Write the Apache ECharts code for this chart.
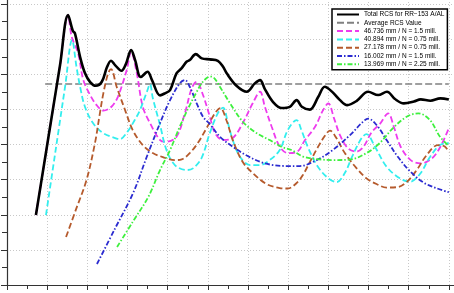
<!DOCTYPE html>
<html>
<head>
<meta charset="utf-8">
<script src="https://cdn.jsdelivr.net/npm/echarts@6/dist/echarts.min.js"></script>
<style>html,body{margin:0;padding:0;background:#fff}#c{width:454px;height:293px}</style>
</head>
<body>
<div id="c"></div>
<script>
// Series names (legend)
const names = [
  'Total RCS for RR\u2212153 A/AL',
  'Average RCS Value',
  '46.736 mm / N = 1.5 mill.',
  '40.894 mm / N = 0.75 mill.',
  '27.178 mm / N = 0.75 mill.',
  '16.002 mm / N = 1.5 mill.',
  '13.969 mm / N = 2.25 mill.'
];

// Values, [x, y]
const total = [[0.72,9.96],[0.92,17.08],[1.12,24.20],[1.32,31.30],[1.52,38.43],[1.64,36.16],[1.69,35.87],[1.82,32.46],[1.94,30.18],[2.07,28.90],[2.21,28.37],[2.36,28.94],[2.49,31.03],[2.59,31.93],[2.69,31.32],[2.85,30.50],[2.96,31.46],[3.09,33.45],[3.19,32.03],[3.33,29.61],[3.50,30.36],[3.61,29.18],[3.81,27.0],[3.93,27.29],[4.06,27.76],[4.22,30.14],[4.35,30.89],[4.47,31.79],[4.55,32.03],[4.70,32.88],[4.85,32.27],[5.05,32.13],[5.25,31.93],[5.38,31.07],[5.47,30.14],[5.72,28.33],[5.97,27.52],[6.17,28.71],[6.30,29.18],[6.42,27.90],[6.62,26.09],[6.84,25.20],[7.04,25.38],[7.21,26.33],[7.34,25.38],[7.54,24.98],[7.75,26.80],[7.91,28.23],[8.09,27.54],[8.29,26.33],[8.47,25.62],[8.70,26.19],[8.99,27.52],[9.24,27.05],[9.46,27.52],[9.66,26.48],[9.88,25.86],[10.13,26.12],[10.30,26.43],[10.54,26.24],[10.79,26.58],[11.00,26.43]];
const average = [[0.95,28.61],[11.0,28.61]];
const s46736 = [[0.72,9.96],[0.92,17.08],[1.12,24.20],[1.32,31.30],[1.52,38.43],[1.61,35.35],[1.77,33.02],[1.90,29.18],[2.07,27.05],[2.23,25.62],[2.40,24.84],[2.60,25.38],[2.76,26.80],[2.98,30.60],[3.09,33.17],[3.23,30.18],[3.38,25.38],[3.56,23.06],[3.81,20.64],[3.97,20.40],[4.22,21.11],[4.43,24.48],[4.60,28.04],[4.72,28.94],[4.88,27.05],[5.05,23.96],[5.18,21.64],[5.38,20.64],[5.62,20.93],[5.87,23.06],[6.12,25.91],[6.30,27.52],[6.42,25.38],[6.59,22.53],[6.79,19.69],[6.99,18.79],[7.21,18.93],[7.42,20.64],[7.67,22.53],[7.87,24.91],[8.00,25.86],[8.14,23.77],[8.29,21.35],[8.49,19.46],[8.70,19.00],[8.87,19.64],[9.08,21.78],[9.28,22.92],[9.49,24.44],[9.63,22.53],[9.80,19.69],[10.05,17.79],[10.30,17.32],[10.58,18.04],[10.79,19.69],[11.00,22.35]];
const s40894 = [[0.97,9.96],[1.13,16.10],[1.29,22.25],[1.45,28.40],[1.62,34.88],[1.73,31.07],[1.82,28.23],[1.94,25.38],[2.14,23.06],[2.39,21.64],[2.73,20.85],[2.81,20.78],[3.01,21.92],[3.18,23.49],[3.31,24.91],[3.48,27.47],[3.56,28.61],[3.63,26.62],[3.81,22.78],[3.97,19.22],[4.18,17.08],[4.47,16.37],[4.63,16.61],[4.84,18.04],[5.05,21.64],[5.25,24.48],[5.38,25.27],[5.50,23.06],[5.62,20.64],[5.80,18.26],[6.05,17.08],[6.29,17.08],[6.54,17.79],[6.79,19.22],[6.99,22.06],[7.21,23.49],[7.33,22.06],[7.49,19.64],[7.74,16.84],[8.00,15.19],[8.21,14.66],[8.41,15.94],[8.61,18.51],[8.83,20.93],[8.95,21.49],[9.16,19.69],[9.45,16.84],[9.78,15.19],[10.03,14.70],[10.28,15.80],[10.53,18.22],[10.78,19.93],[11.00,20.2]];
const s27178 = [[1.47,6.83],[1.72,10.80],[1.98,14.95],[2.19,20.21],[2.30,24.00],[2.40,27.33],[2.52,30.18],[2.59,30.75],[2.73,28.23],[2.94,24.91],[3.13,22.06],[3.38,19.93],[3.63,18.79],[3.88,18.22],[4.18,17.79],[4.35,17.89],[4.55,18.79],[4.75,20.21],[4.97,22.35],[5.18,24.48],[5.31,25.20],[5.47,23.35],[5.62,20.64],[5.87,17.51],[6.12,15.94],[6.46,14.38],[6.79,13.81],[6.99,13.74],[7.21,14.52],[7.37,15.70],[7.54,17.51],[7.74,19.64],[7.91,21.21],[8.04,21.99],[8.20,20.93],[8.41,18.79],[8.70,16.65],[8.95,15.19],[9.20,14.38],[9.45,13.88],[9.73,13.95],[9.95,14.66],[10.20,16.37],[10.45,18.51],[10.73,19.93],[10.90,19.72],[11.00,18.93]];
const s16002 = [[2.24,2.99],[2.69,8.05],[3.14,13.10],[3.48,18.26],[3.81,23.06],[4.06,26.33],[4.30,28.71],[4.43,29.18],[4.55,28.23],[4.72,25.91],[4.88,23.96],[5.05,22.92],[5.30,21.11],[5.62,19.69],[5.97,18.43],[6.30,17.55],[6.62,17.08],[6.96,16.94],[7.29,16.94],[7.71,17.79],[8.11,19.22],[8.54,21.35],[8.83,23.06],[8.99,23.70],[9.20,22.78],[9.46,20.57],[9.73,18.26],[10.04,16.16],[10.37,14.59],[10.70,13.77],[11.00,13.21]];
const s13969 = [[2.74,5.41],[3.13,8.99],[3.52,12.57],[3.81,16.37],[4.06,19.22],[4.30,22.53],[4.55,25.62],[4.72,27.47],[4.85,28.75],[5.01,29.61],[5.09,29.68],[5.18,29.32],[5.30,28.23],[5.55,25.91],[5.87,23.25],[6.21,21.64],[6.54,20.64],[6.83,19.69],[7.08,19.22],[7.37,18.29],[7.71,17.94],[8.11,17.79],[8.54,17.86],[8.95,18.79],[9.28,20.21],[9.61,22.35],[9.95,23.96],[10.24,24.44],[10.53,23.49],[10.78,21.11],[11.00,19.79]];

const colors = ['#000000','#808080','#ee3bee','#33eeee','#b55a2c','#2b2bd0','#3ef03e'];
const dataList = [total, average, s46736, s40894, s27178, s16002, s13969];
const widths = [2.6, 1.5, 1.8, 1.8, 1.8, 1.8, 1.8];
const dashes = ['solid', [7,3], [6,3], [6,3], [6,3], [5,2,1.5,2], [5,2,1.5,2]];

const chart = echarts.init(document.getElementById('c'), null, {renderer:'canvas'});
const series = dataList.map((d, i) => ({
  name: names[i],
  type: 'line',
  data: d,
  showSymbol: false,
  symbol: 'none',
  smooth: i === 1 ? false : 0.35,
  z: i === 0 ? 5 : 2,
  lineStyle: {color: colors[i], width: widths[i], type: dashes[i]},
  itemStyle: {color: colors[i]},
  emphasis: {disabled: true},
  silent: true,
  animation: false
}));

chart.setOption({
  animation: false,
  backgroundColor: '#ffffff',
  grid: {left: 7, top: -31, width: 482, height: 316, containLabel: false, outerBoundsMode: 'none'},
  legend: {
    data: names,
    orient: 'vertical',
    left: 332, top: 9,
    itemWidth: 22, itemHeight: 7, itemGap: 1.3,
    padding: [2, 3, 2, 4],
    borderColor: '#000', borderWidth: 1.5,
    backgroundColor: '#fff',
    selectedMode: false,
    itemStyle: {opacity: 0},
    textStyle: {fontSize: 6.5, lineHeight: 7, fontFamily: 'Liberation Sans, Arial, sans-serif', color: '#000'}
  },
  xAxis: {
    type: 'value', min: 0, max: 12, interval: 1,
    axisLine: {show: true, lineStyle: {color: '#333', width: 1.2}},
    axisTick: {show: true, length: 5, lineStyle: {color: '#333'}},
    minorTick: {show: true, splitNumber: 2, length: 4, lineStyle: {color: '#333'}},
    axisLabel: {show: false},
    splitLine: {show: true, lineStyle: {color: '#c8c8c8', type: [1,2], width: 1}}
  },
  yAxis: {
    type: 'value', min: 0, max: 45, interval: 5,
    axisLine: {show: true, onZero: false, lineStyle: {color: '#333', width: 1.2}},
    axisTick: {show: true, length: 6, lineStyle: {color: '#333'}},
    minorTick: {show: true, splitNumber: 2, length: 5, lineStyle: {color: '#333'}},
    axisLabel: {show: false},
    splitLine: {show: true, lineStyle: {color: '#c8c8c8', type: [1,2], width: 1}}
  },
  series: series
});
</script>
</body>
</html>
